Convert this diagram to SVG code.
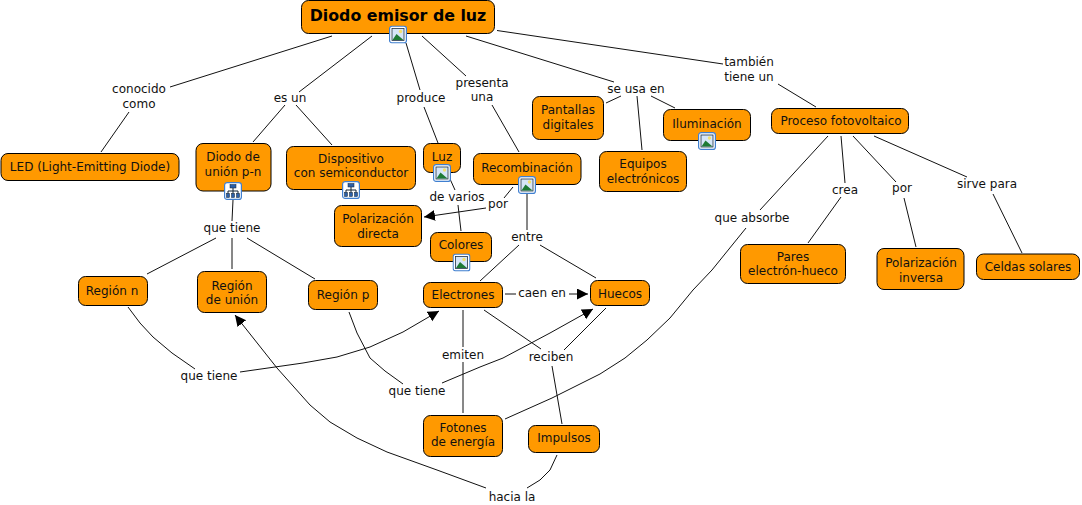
<svg xmlns="http://www.w3.org/2000/svg" width="1082" height="505" viewBox="0 0 1082 505">
<style>
text{font-family:"DejaVu Sans",Verdana,sans-serif;font-size:12px;fill:#111;text-anchor:middle}
.n{fill:#ff9900;stroke:#000;stroke-width:1}
.t{font-size:15.8px;font-weight:bold;fill:#000}
.c{fill:none;stroke:#111;stroke-width:1;stroke-linejoin:round}
</style>
<defs>
<marker id="a" markerUnits="userSpaceOnUse" markerWidth="14" markerHeight="12" refX="11" refY="5.500" orient="auto"><path d="M0 0L11 5.500L0 11Z" fill="#000"/></marker>
<symbol id="img" width="18" height="18" viewBox="0 0 18 18"><rect x=".6" y=".6" width="16.800" height="16.800" rx="2.500" fill="#fff" stroke="#3f7fd0" stroke-width="1.200"/><rect x="3" y="3" width="12" height="12" fill="#d6e6f8" stroke="#223344" stroke-width=".8"/><circle cx="11.500" cy="6" r="1.700" fill="#f2e070"/><path d="M3.500 14.500L7.500 8.500L14.500 14.500Z" fill="#1e7a34"/></symbol>
<symbol id="org" width="18" height="18" viewBox="0 0 18 18"><rect x=".6" y=".6" width="16.800" height="16.800" rx="2.500" fill="#fff" stroke="#3f7fd0" stroke-width="1.200"/><path d="M9 6V13M4 12V9H14V12" fill="none" stroke="#112233"/><rect x="6" y="2.500" width="6" height="3.500" fill="#2b5fa8" stroke="#112233" stroke-width=".5"/><rect x="2.500" y="11.500" width="3" height="4" fill="#2b5fa8" stroke="#112233" stroke-width=".5"/><rect x="7.500" y="11.500" width="3" height="4" fill="#2b5fa8" stroke="#112233" stroke-width=".5"/><rect x="12.500" y="11.500" width="3" height="4" fill="#2b5fa8" stroke="#112233" stroke-width=".5"/></symbol>
</defs>
<g id="connectors">
<path class="c" d="M332 36L170 87"/><path class="c" d="M129 112L101 152"/>
<path class="c" d="M372 36L299 92"/><path class="c" d="M285 105L253 142"/><path class="c" d="M296 105L332 145"/>
<path class="c" d="M406 43L420 90"/><path class="c" d="M424 107L438 143"/>
<path class="c" d="M422 36L466 76"/><path class="c" d="M492 105L519 152"/>
<path class="c" d="M466 36L614 82"/><path class="c" d="M621 96L606 103"/><path class="c" d="M637 96L642 150"/><path class="c" d="M651 96L675 108"/>
<path class="c" d="M497 30.500L723 64"/><path class="c" d="M778 84L816 107"/>
<path class="c" d="M233 200L232 221"/><path class="c" d="M216 238L147 274"/><path class="c" d="M232 238V269"/><path class="c" d="M247 238L315 279"/>
<path class="c" d="M450 179L455 190"/><path class="c" d="M458 205L461 231"/>
<path class="c" d="M513 187L504 198"/><path class="c" d="M486 208L424 217" marker-end="url(#a)"/>
<path class="c" d="M527 194V230"/><path class="c" d="M519 245L480 281"/><path class="c" d="M540 245L596 278"/>
<path class="c" d="M505 294H516"/><path class="c" d="M569 294H588" marker-end="url(#a)"/>
<path class="c" d="M463 310V347"/><path class="c" d="M463 362V413"/>
<path class="c" d="M484 310L541 349"/><path class="c" d="M606 308L564 350"/><path class="c" d="M552 366L562 424"/>
<path class="c" d="M128 307L140 323L153 337L172 353L195 369"/>
<path class="c" d="M240 372L303 363L337 357L370 347L403 332L439 311" marker-end="url(#a)"/>
<path class="c" d="M349 312L357 333L370 358L385 371L403 384"/>
<path class="c" d="M442 383L480 367L503 358L550 333L593 309" marker-end="url(#a)"/>
<path class="c" d="M557 455L550 470L540 480L527 488"/>
<path class="c" d="M486 488L437 470L387 452L357 438L330 422L310 405L277 368L235 315" marker-end="url(#a)"/>
<path class="c" d="M505 419L552 398L600 374L625 358L647 340L670 318L693 290L712 270L746 228"/>
<path class="c" d="M828 136L760 210"/><path class="c" d="M841 136L845 183"/><path class="c" d="M841 197L808 243"/>
<path class="c" d="M853 136L896 182"/><path class="c" d="M904 198L916 247"/>
<path class="c" d="M874 136L967 177"/><path class="c" d="M993 194L1022 253"/>
</g>
<g id="n1"><rect class="n" x="301.500" y="0.500" width="193" height="33" rx="7"/><text class="t" x="398" y="21">Diodo emisor de luz</text><use href="#img" x="389" y="25.500"/></g>
<g id="n2"><rect class="n" x="1" y="153.500" width="178" height="27" rx="7"/><text x="90" y="171">LED (Light-Emitting Diode)</text></g>
<g id="n3"><rect class="n" x="196" y="143.500" width="75" height="47.500" rx="7"/><text x="233" y="161">Diodo de</text><text x="233" y="176">unión p-n</text><use href="#org" x="224" y="182"/></g>
<g id="n4"><rect class="n" x="286.500" y="146.500" width="129" height="43" rx="7"/><text x="351" y="163">Dispositivo</text><text x="351" y="177">con semiconductor</text><use href="#org" x="342" y="181"/></g>
<g id="n5"><rect class="n" x="423.500" y="143.500" width="37" height="29" rx="7"/><text x="442" y="161">Luz</text><use href="#img" x="433" y="164"/></g>
<g id="n6"><rect class="n" x="473.500" y="153.500" width="107.500" height="31" rx="7"/><text x="527" y="172">Recombinación</text><use href="#img" x="518" y="176"/></g>
<g id="n7"><rect class="n" x="334.500" y="205.500" width="87" height="41" rx="7"/><text x="378" y="223">Polarización</text><text x="378" y="238">directa</text></g>
<g id="n8"><rect class="n" x="430.500" y="232.500" width="61" height="29" rx="7"/><text x="461" y="249">Colores</text><use href="#img" x="452.500" y="253.500"/></g>
<g id="n9"><rect class="n" x="78.500" y="276.500" width="69" height="29" rx="7"/><text x="112" y="295">Región n</text></g>
<g id="n10"><rect class="n" x="197.500" y="271.500" width="69" height="41" rx="7"/><text x="232" y="290">Región</text><text x="232" y="304">de unión</text></g>
<g id="n11"><rect class="n" x="308.500" y="280.500" width="69" height="29" rx="7"/><text x="343" y="299">Región p</text></g>
<g id="n12"><rect class="n" x="423.500" y="282.500" width="79" height="25" rx="7"/><text x="463" y="299">Electrones</text></g>
<g id="n13"><rect class="n" x="590.500" y="280.500" width="59" height="25" rx="7"/><text x="620" y="298">Huecos</text></g>
<g id="n14"><rect class="n" x="423.500" y="415.500" width="79" height="41" rx="7"/><text x="463" y="432">Fotones</text><text x="463" y="446">de energía</text></g>
<g id="n15"><rect class="n" x="528.500" y="425.500" width="71" height="27" rx="7"/><text x="564" y="442">Impulsos</text></g>
<g id="n16"><rect class="n" x="532.500" y="96.500" width="71" height="43" rx="7"/><text x="568" y="114">Pantallas</text><text x="568" y="129">digitales</text></g>
<g id="n17"><rect class="n" x="599.500" y="151.500" width="87" height="40" rx="7"/><text x="643" y="168">Equipos</text><text x="643" y="183">electrónicos</text></g>
<g id="n18"><rect class="n" x="663.500" y="109.500" width="87" height="31" rx="7"/><text x="707" y="128">Iluminación</text><use href="#img" x="698" y="132"/></g>
<g id="n19"><rect class="n" x="771.500" y="108.500" width="137" height="25" rx="7"/><text x="841" y="125">Proceso fotovoltaico</text></g>
<g id="n20"><rect class="n" x="740.500" y="244.500" width="105" height="39" rx="7"/><text x="793" y="261">Pares</text><text x="793" y="275">electrón-hueco</text></g>
<g id="n21"><rect class="n" x="877" y="248.500" width="87" height="41" rx="7"/><text x="921" y="267">Polarización</text><text x="921" y="282">inversa</text></g>
<g id="n22"><rect class="n" x="976.500" y="254" width="103" height="25.500" rx="7"/><text x="1028" y="271">Celdas solares</text></g>
<g id="labels">
<text x="139" y="93">conocido</text><text x="139" y="108">como</text>
<text x="290" y="102">es un</text><text x="421" y="102">produce</text>
<text x="482" y="87">presenta</text><text x="482" y="101">una</text>
<text x="636" y="93">se usa en</text>
<text x="749" y="66">también</text><text x="749" y="81">tiene un</text>
<text x="232" y="232">que tiene</text><text x="457" y="201">de varios</text><text x="498" y="208">por</text>
<text x="527" y="241">entre</text><text x="542" y="297">caen en</text>
<text x="463" y="359">emiten</text><text x="551" y="361">reciben</text>
<text x="209" y="380">que tiene</text><text x="417" y="395">que tiene</text><text x="512" y="501">hacia la</text>
<text x="752" y="222">que absorbe</text><text x="845" y="194">crea</text><text x="902" y="192">por</text><text x="987" y="188">sirve para</text>
</g>
</svg>
